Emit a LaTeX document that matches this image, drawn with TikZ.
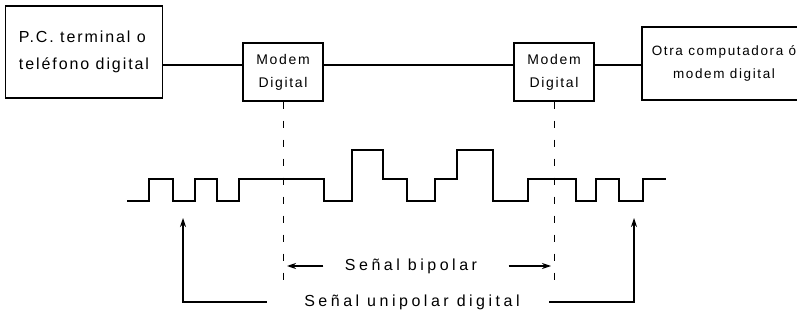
\documentclass[tikz,border=0pt]{standalone}
\usepackage{fontspec}
\usetikzlibrary{arrows.meta}
\setmainfont{Liberation Sans}
\newfontfamily\boxfont[LetterSpace=12]{Liberation Sans}
\newfontfamily\lblfont[LetterSpace=22]{Liberation Sans}
\begin{document}
\begin{tikzpicture}[x=1pt, y=-1pt, line width=1.1pt, >={Stealth[length=9pt,width=6pt]}]
  \tikzstyle{bigbox} = [rectangle, draw, inner sep=0pt, align=center, font=\boxfont\fontsize{13.5}{23}\selectfont]
  \tikzstyle{modem} = [bigbox, minimum width=80pt, minimum height=58pt, font=\boxfont\fontsize{14}{23}\selectfont]
  \tikzstyle{guide} = [draw, line width=1pt, dash pattern=on 7pt off 12pt]
  \tikzstyle{lbl} = [inner sep=1pt, font=\lblfont\fontsize{16}{18}\selectfont]
  \useasboundingbox (0,0) rectangle (797,320);

  \node [bigbox, minimum width=157pt, minimum height=92pt, align=left, font=\boxfont\fontsize{16}{27}\selectfont] (pc) at (84,52) {P.C. terminal o\\teléfono digital};
  \node [modem, right of=pc, node distance=199pt, yshift=-20pt] (modemA) {Modem\\Digital};
  \node [modem, right of=modemA, node distance=271pt] (modemB) {Modem\\Digital};
  \node [bigbox, right of=modemB, node distance=170pt, yshift=8.5pt, minimum width=164pt, minimum height=73pt] (otra) {Otra computadora ó\\modem digital};

  \coordinate (wire) at (0,65);
  \draw (pc.east |- wire) -- (modemA.west |- wire);
  \draw (modemA.east |- wire) -- (modemB.west |- wire);
  \draw (modemB.east |- wire) -- (otra.west |- wire);

  % line signal
  \draw (127,201) -| (149,179) -| (173,201) -| (195,179) -| (217,201) -| (239,179)
    -| (324,201) -| (352,150) -| (383,179) -| (407,201) -| (435,179) -| (457,150)
    -| (493,201) -| (528,179) -| (576,201) -| (596,179) -| (619,201) -| (643,179) -- (666,179);

  \coordinate (base) at (0,280);
  \draw [guide] (modemA.south) -- (modemA.south |- base);
  \draw [guide] (modemB.south) -- (modemB.south |- base);

  \node [lbl] (bip) at (411,266) {Señal bipolar};
  \coordinate (bipL) at (modemA.south |- bip.west);
  \coordinate (bipR) at (modemB.south |- bip.east);
  \draw [->] ([xshift=-20pt]bip.west) -- ([xshift=4pt]bipL);
  \draw [->] ([xshift=30pt]bip.east) -- ([xshift=-3pt]bipR);

  \node [lbl] (uni) at (412,302) {Señal unipolar digital};
  \coordinate (tipL) at (183,218);
  \coordinate (tipR) at (634,218);
  \draw [->] ([xshift=-36pt]uni.west) -| (tipL);
  \draw [->] ([xshift=28pt]uni.east) -| (tipR);
\end{tikzpicture}
\end{document}
